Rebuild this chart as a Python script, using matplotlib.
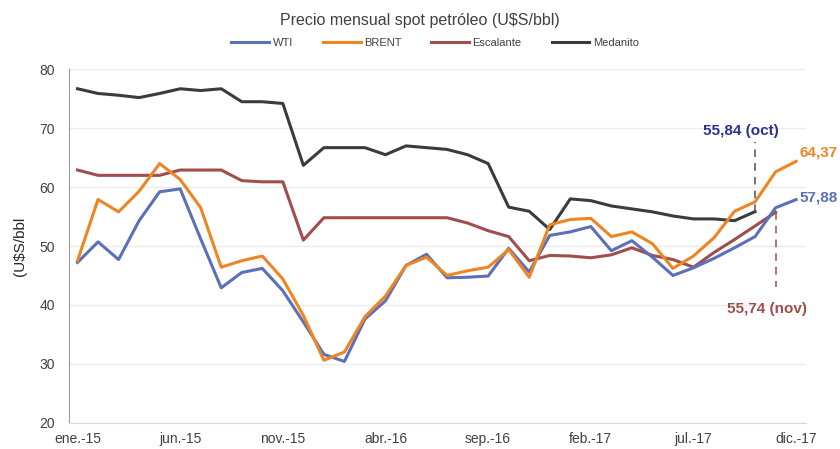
import matplotlib
matplotlib.use("Agg")
import matplotlib.pyplot as plt

plt.rcParams['font.family'] = ['Liberation Sans', 'DejaVu Sans']

# Precios mensuales (ene-2015 .. dic-2017), U$S/bbl
wti = [47.2, 50.7, 47.7, 54.3, 59.2, 59.7, 51.2, 42.9, 45.5, 46.2, 42.4, 37.1,
       31.6, 30.4, 37.6, 40.7, 46.7, 48.6, 44.6, 44.7, 44.9, 49.6, 45.6, 51.8,
       52.4, 53.3, 49.2, 50.9, 48.1, 45.0, 46.3, 47.9, 49.7, 51.6, 56.5, 57.88]
brent = [47.5, 57.9, 55.8, 59.3, 64.0, 61.3, 56.5, 46.4, 47.5, 48.3, 44.4, 38.2,
         30.6, 32.0, 38.0, 41.5, 46.7, 48.1, 45.0, 45.8, 46.4, 49.4, 44.7, 53.6,
         54.5, 54.7, 51.6, 52.4, 50.4, 46.2, 48.3, 51.4, 55.9, 57.5, 62.6, 64.37]
# Escalante hasta nov-17, Medanito hasta oct-17
escalante = [62.9, 62.0, 62.0, 62.0, 62.0, 62.9, 62.9, 62.9, 61.1, 60.9, 60.9, 51.0,
             54.8, 54.8, 54.8, 54.8, 54.8, 54.8, 54.8, 53.9, 52.6, 51.6, 47.5, 48.4,
             48.3, 48.0, 48.5, 49.7, 48.4, 47.7, 46.4, 48.9, 51.1, 53.4, 55.74]
medanito = [76.7, 75.9, 75.6, 75.2, 75.9, 76.7, 76.4, 76.7, 74.5, 74.5, 74.2, 63.7,
            66.7, 66.7, 66.7, 65.5, 67.0, 66.7, 66.4, 65.5, 64.0, 56.6, 55.9, 52.8,
            58.0, 57.7, 56.8, 56.3, 55.8, 55.1, 54.6, 54.6, 54.3, 55.84]

xtick_labels = ["ene.-15", "jun.-15", "nov.-15", "abr.-16", "sep.-16",
                "feb.-17", "jul.-17", "dic.-17"]

c_wti = '#5B70B8'
c_brent = '#EE8522'
c_esc = '#A04D4D'
c_med = '#373D3D'

fig = plt.figure(figsize=(8.4, 4.49), dpi=100)
ax = fig.add_axes([0.082, 0.0586, 0.878, 0.787])

lw = 2.2
ax.plot(range(len(wti)), wti, color=c_wti, lw=lw, label='WTI', zorder=3)
ax.plot(range(len(brent)), brent, color=c_brent, lw=lw, label='BRENT', zorder=4)
ax.plot(range(len(escalante)), escalante, color=c_esc, lw=lw, label='Escalante', zorder=2)
ax.plot(range(len(medanito)), medanito, color=c_med, lw=lw, label='Medanito', zorder=2)

ax.set_xlim(-0.42, 35.5)
ax.set_ylim(20, 80)
ax.set_yticks(range(20, 81, 10))
ax.set_xticks(range(0, 36, 5))
ax.set_xticklabels(xtick_labels)
ax.tick_params(axis='both', length=0, labelsize=10, colors='#404040')
ax.tick_params(axis='y', pad=10)
ax.tick_params(axis='x', pad=7)
ax.grid(axis='y', color='#EBEBEB', lw=1)
ax.set_axisbelow(True)
for s in ['top', 'right']:
    ax.spines[s].set_visible(False)
ax.spines['left'].set_color('#9A9A9A')
ax.spines['bottom'].set_color('#D9D9D9')

ax.set_ylabel('(U$S/bbl', fontsize=11, color='#262626', labelpad=9)

# anotaciones
i_med = len(medanito) - 1
ax.plot([i_med, i_med], [medanito[-1], 67.7], ls=(0, (5, 4)), color='#505050', lw=1.1)
ax.text(i_med - 0.7, 69.6, '55,84 (oct)', color='#2E3192', fontsize=11,
        fontweight='bold', ha='center', va='center')
i_esc = len(escalante) - 1
ax.plot([i_esc, i_esc], [escalante[-1], 43.1], ls=(0, (5, 4)), color=c_esc, lw=1.1)
ax.text(i_esc - 0.4, 39.3, '55,74 (nov)', color=c_esc, fontsize=11,
        fontweight='bold', ha='center', va='center')
ax.text(35.15, 65.8, '64,37', color=c_brent, fontsize=11, fontweight='bold',
        ha='left', va='center', clip_on=False)
ax.text(35.15, 58.3, '57,88', color=c_wti, fontsize=11, fontweight='bold',
        ha='left', va='center', clip_on=False)

fig.text(0.5, 1 - 21 / 449, 'Precio mensual spot petróleo (U$S/bbl)',
         ha='center', va='center', fontsize=11.5, color='#404040')
fig.legend(loc='center', bbox_to_anchor=(0.518, 1 - 43 / 449), ncol=4,
           frameon=False, fontsize=8, handlelength=3.4, handletextpad=0.3,
           columnspacing=2.7, labelcolor='#404040')

fig.savefig('out.png', dpi=100)
